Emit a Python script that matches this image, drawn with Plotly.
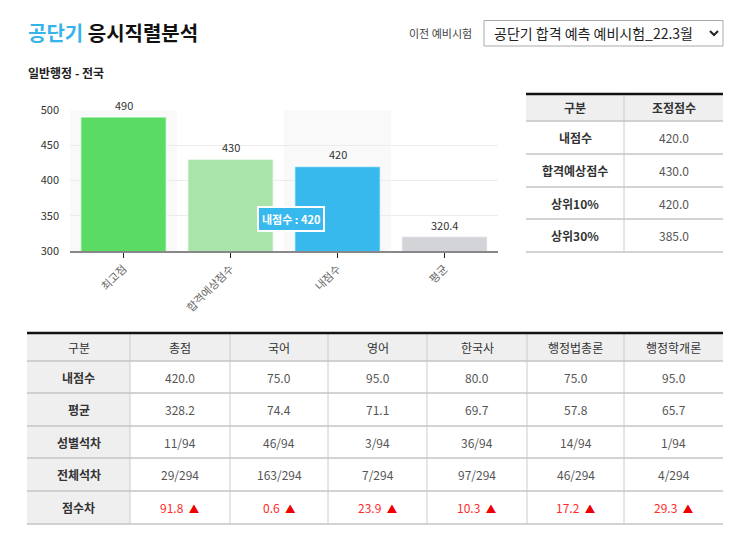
import plotly.graph_objects as go

W, H = 743, 535
def px(x): return x / W
def py(y): return 1 - y / H

FONT = "Noto Sans CJK KR"

# ---- data ----
bar_categories = ["최고점", "합격예상점수", "내점수", "평균"]
bar_values = [490, 430, 420, 320.4]
bar_colors = ["#5adc64", "#a9e5ab", "#38b9ee", "#d3d4d8"]
y_ticks = [300, 350, 400, 450, 500]

side_header = ["구분", "조정점수"]
side_labels = ["내점수", "합격예상점수", "상위10%", "상위30%"]
side_values = ["420.0", "430.0", "420.0", "385.0"]

main_header = ["구분", "총점", "국어", "영어", "한국사", "행정법총론", "행정학개론"]
main_rows = ["내점수", "평균", "성별석차", "전체석차", "점수차"]
my_score = ["420.0", "75.0", "95.0", "80.0", "75.0", "95.0"]
avg_score = ["328.2", "74.4", "71.1", "69.7", "57.8", "65.7"]
gender_rank = ["11/94", "46/94", "3/94", "36/94", "14/94", "1/94"]
total_rank = ["29/294", "163/294", "7/294", "97/294", "46/294", "4/294"]
score_diff = [91.8, 0.6, 23.9, 10.3, 17.2, 29.3]

fig = go.Figure()

# ---- bar chart ----
fig.add_trace(go.Bar(
    x=bar_categories, y=bar_values,
    marker=dict(color=bar_colors, line=dict(color="rgba(255,255,255,0.6)", width=1.5)),
    width=0.8, hoverinfo="skip", showlegend=False,
))
for c, v in zip(bar_categories, bar_values):
    fig.add_annotation(xref="x", yref="y", x=c, y=v, text=f"{v:g}", showarrow=False,
                       xanchor="center", yanchor="bottom", yshift=2,
                       font=dict(size=11, color="#333", family=FONT))

for i in range(0, len(bar_categories), 2):
    fig.add_shape(type="rect", xref="x", yref="y", x0=i - 0.5, x1=i + 0.5,
                  y0=y_ticks[0], y1=y_ticks[-1], fillcolor="#f9f9f9",
                  line=dict(width=0), layer="below")

fig.update_layout(
    xaxis=dict(domain=[px(70), px(498)], range=[-0.5, len(bar_categories) - 0.5],
               showline=True, linecolor="#888", linewidth=2,
               ticks="outside", ticklen=5, tickcolor="#222", tickwidth=1,
               tickangle=-45, tickfont=dict(size=11, color="#666", family=FONT),
               showgrid=False, anchor="y", fixedrange=True, automargin=False),
    yaxis=dict(domain=[py(251), py(110)], range=[y_ticks[0], y_ticks[-1]],
               tickvals=y_ticks, showgrid=True, gridcolor="#ececec", gridwidth=1,
               zeroline=False, tickfont=dict(size=11, color="#333", family=FONT),
               ticklabelstandoff=10, anchor="x", fixedrange=True, automargin=False),
)

# tooltip
mi = bar_categories.index("내점수")
fig.add_annotation(xref="x", yref="y", x=mi - 0.43, y=345.5,
                   text=f"<b>{bar_categories[mi]} : {bar_values[mi]:g}</b>",
                   showarrow=False, xanchor="center", yanchor="middle",
                   font=dict(size=11, color="white", family=FONT),
                   bgcolor="#38b9ee", bordercolor="white", borderwidth=2, borderpad=3)


# ---- table helper (shapes + annotations in paper space) ----
def draw_table(col_edges, row_edges, header, body, header_fill, label_fill,
               body_colors, bold_header):
    x0, x1 = col_edges[0], col_edges[-1]
    fig.add_shape(type="rect", xref="paper", yref="paper", x0=px(x0), x1=px(x1),
                  y0=py(row_edges[1]), y1=py(row_edges[0]), fillcolor=header_fill,
                  line=dict(width=0), layer="below")
    if label_fill:
        fig.add_shape(type="rect", xref="paper", yref="paper", x0=px(x0),
                      x1=px(col_edges[1]), y0=py(row_edges[-1]), y1=py(row_edges[1]),
                      fillcolor=label_fill, line=dict(width=0), layer="below")
    for cx in col_edges[1:-1]:
        fig.add_shape(type="line", xref="paper", yref="paper", x0=px(cx), x1=px(cx),
                      y0=py(row_edges[-1]), y1=py(row_edges[0]),
                      line=dict(color="#cccccc", width=1))
    for ry in row_edges[1:]:
        fig.add_shape(type="line", xref="paper", yref="paper", x0=px(x0), x1=px(x1),
                      y0=py(ry), y1=py(ry), line=dict(color="#c4c4c4", width=1.5))
    fig.add_shape(type="line", xref="paper", yref="paper", x0=px(x0), x1=px(x1),
                  y0=py(row_edges[0]), y1=py(row_edges[0]),
                  line=dict(color="#111", width=2.5))
    for j, h in enumerate(header):
        cx = (col_edges[j] + col_edges[j + 1]) / 2
        cy = (row_edges[0] + row_edges[1]) / 2
        fig.add_annotation(xref="paper", yref="paper", x=px(cx), y=py(cy),
                           xanchor="center", yanchor="middle",
                           text=f"<b>{h}</b>" if bold_header else h, showarrow=False,
                           font=dict(size=12, color="#333", family=FONT))
    for j, col in enumerate(body):
        cx = (col_edges[j] + col_edges[j + 1]) / 2
        for i, val in enumerate(col):
            cy = (row_edges[i + 1] + row_edges[i + 2]) / 2
            txt = f"<b>{val}</b>" if j == 0 else val
            fig.add_annotation(xref="paper", yref="paper", x=px(cx), y=py(cy),
                               xanchor="center", yanchor="middle",
                               text=txt, showarrow=False,
                               font=dict(size=12, color=body_colors[j][i], family=FONT))


# side table
draw_table([526, 624, 723], [94, 121, 154, 187, 219, 252], side_header,
           [side_labels, side_values], "#efefef", None,
           [["#333"] * 4, ["#555"] * 4], True)

# main table
main_body = [main_rows]
main_colors = [["#333"] * 5]
for j in range(len(my_score)):
    main_body.append([my_score[j], avg_score[j], gender_rank[j], total_rank[j],
                      f"{score_diff[j]:.1f}&nbsp;&nbsp;<span style='font-size:10.5px;color:#ee0000'>▲</span>"])
    main_colors.append(["#555"] * 4 + ["#ff2a2a"])
draw_table([27, 130, 230, 328, 427, 527, 624, 723], [333, 361, 393, 426, 458, 491, 524],
           main_header, main_body, "#efefef", "#efefef", main_colors, False)

# ---- header texts ----
fig.add_annotation(xref="paper", yref="paper", x=px(26), y=py(33), xanchor="left",
                   yanchor="middle", showarrow=False,
                   text="<b><span style='color:#36b4e9'>공단기</span> 응시직렬분석</b>",
                   font=dict(size=20, color="#111", family=FONT))
fig.add_annotation(xref="paper", yref="paper", x=px(26), y=py(73), xanchor="left",
                   yanchor="middle", showarrow=False, text="<b>일반행정 - 전국</b>",
                   font=dict(size=12, color="#222", family=FONT))
fig.add_annotation(xref="paper", yref="paper", x=px(474), y=py(33), xanchor="right",
                   yanchor="middle", showarrow=False, text="이전 예비시험",
                   font=dict(size=11, color="#444", family=FONT))
fig.add_shape(type="rect", xref="paper", yref="paper", x0=px(484), x1=px(723),
              y0=py(46), y1=py(20.5), line=dict(color="#aaa", width=1), fillcolor="white")
fig.add_annotation(xref="paper", yref="paper", x=px(492), y=py(33.5), xanchor="left",
                   yanchor="middle", showarrow=False, text="공단기 합격 예측 예비시험_22.3월",
                   font=dict(size=14, color="#222", family=FONT))
fig.add_shape(type="path", xref="paper", yref="paper",
              path=f"M {px(710)} {py(31)} L {px(714)} {py(35)} L {px(718)} {py(31)}",
              line=dict(color="#222", width=2))

fig.update_layout(width=W, height=H, margin=dict(l=0, r=0, t=0, b=0, autoexpand=False),
                  paper_bgcolor="white", plot_bgcolor="white",
                  font=dict(family=FONT), showlegend=False)

fig.write_html("out.html")
